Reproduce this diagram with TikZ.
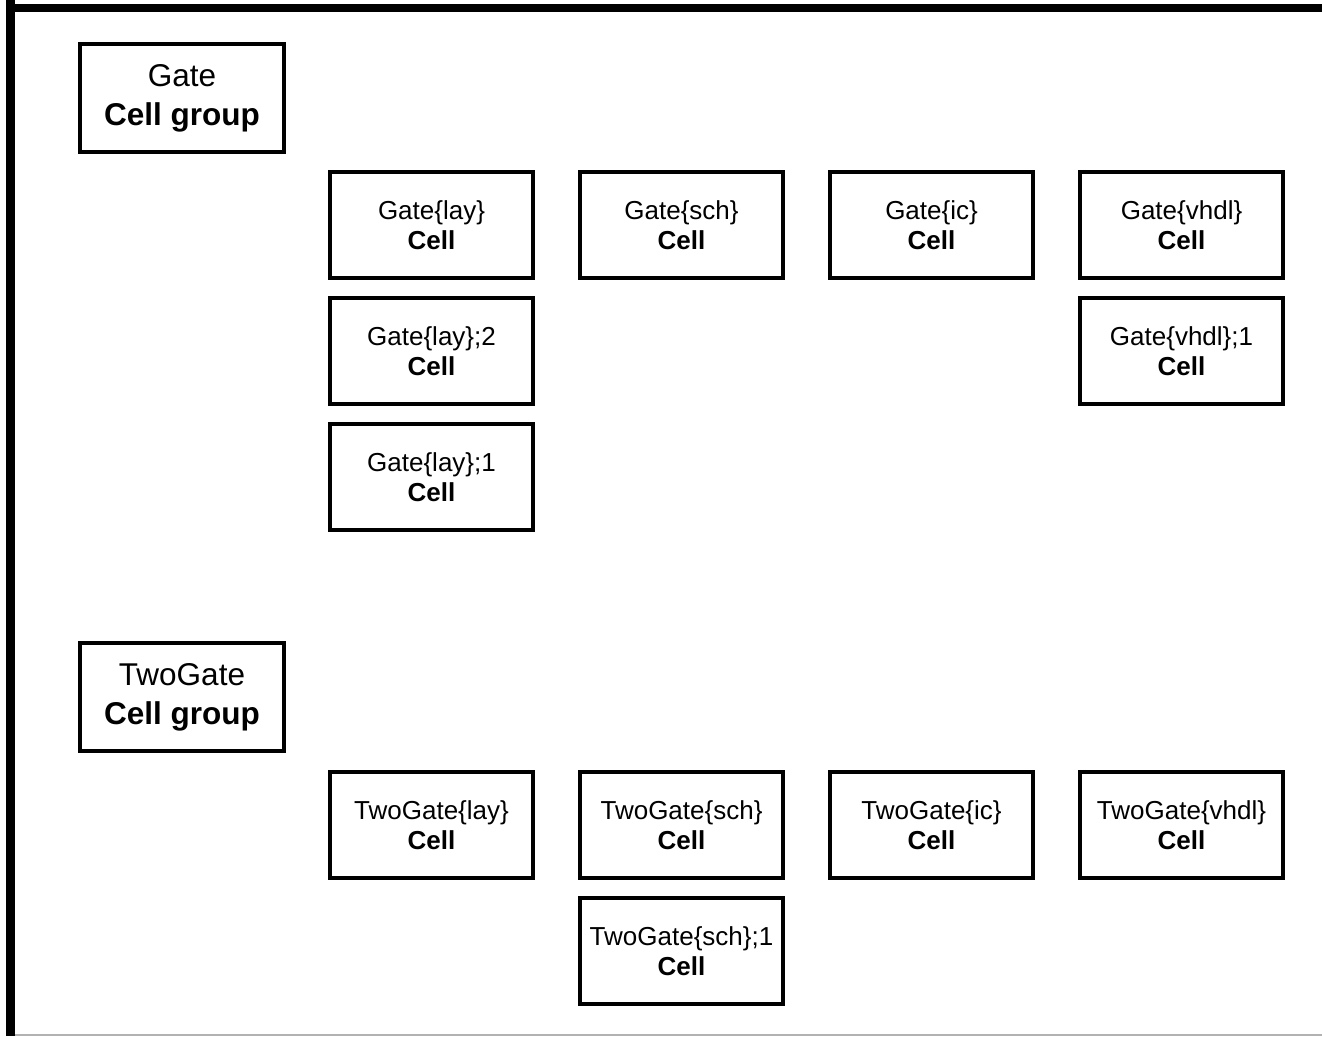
\documentclass[tikz,border=0pt]{standalone}
\usepackage{fontspec}
\setmainfont{Liberation Sans}
\usetikzlibrary{positioning}

\begin{document}
\begin{tikzpicture}
    \tikzstyle{group} = [
      rectangle,
      draw,
      line width=4pt,
      minimum width=204pt,
      minimum height=108pt,
      anchor=north west,
      align=center,
      font=\fontsize{31.5}{39}\selectfont,
    ]
    \tikzstyle{cell} = [
      rectangle,
      draw,
      line width=4pt,
      minimum width=203pt,
      minimum height=106pt,
      anchor=north west,
      align=center,
      font=\fontsize{26}{30}\selectfont,
    ]

    \newcommand{\hpadding}[0]{43pt}
    \newcommand{\vpadding}[0]{16pt}
    \newcommand{\celltext}[1]{#1\\\textbf{Cell}}

    \coordinate (origo) at (0,0);
    \useasboundingbox (origo) rectangle (1322pt,-1036pt);

    % frame
    \coordinate (frametl) at (10.5pt,-8pt);
    \draw[line width=9pt] (frametl |- origo) -- (10.5pt,-1036pt);
    \draw[line width=8pt] (6pt,-8pt) -- (1322pt,-8pt);
    \draw[line width=1.5pt,black!30] (15pt,-1035pt) -- (1322pt,-1035pt);

    % Gate
    \node[group] (gate) at ([xshift=78pt,yshift=-42pt] origo) {Gate\\\textbf{Cell group}};
    \node[cell] (gatelay) at ([xshift=42pt,yshift=-\vpadding] gate.south east) {\celltext{Gate\{lay\}}};
    \node[cell] (gatesch) at ([xshift=\hpadding] gatelay.north east) {\celltext{Gate\{sch\}}};
    \node[cell] (gateic) at ([xshift=\hpadding] gatesch.north east) {\celltext{Gate\{ic\}}};
    \node[cell] (gatevhdl) at ([xshift=\hpadding] gateic.north east) {\celltext{Gate\{vhdl\}}};
    \node[cell] (gatelayII) at ([yshift=-\vpadding] gatelay.south west) {\celltext{Gate\{lay\};2}};
    \node[cell] (gatelayI) at ([yshift=-\vpadding] gatelayII.south west) {\celltext{Gate\{lay\};1}};
    \node[cell] (gatevhdlI) at ([yshift=-\vpadding] gatevhdl.south west) {\celltext{Gate\{vhdl\};1}};

    % TwoGate
    \node[group] (twogate) at ([xshift=78pt,yshift=-641pt] origo) {TwoGate\\\textbf{Cell group}};
    \node[cell] (twogatelay) at ([xshift=42pt,yshift=-17pt] twogate.south east) {\celltext{TwoGate\{lay\}}};
    \node[cell] (twogatesch) at ([xshift=\hpadding] twogatelay.north east) {\celltext{TwoGate\{sch\}}};
    \node[cell] (twogateic) at ([xshift=\hpadding] twogatesch.north east) {\celltext{TwoGate\{ic\}}};
    \node[cell] (twogatevhdl) at ([xshift=\hpadding] twogateic.north east) {\celltext{TwoGate\{vhdl\}}};
    \node[cell] (twogateschI) at ([yshift=-\vpadding] twogatesch.south west) {\celltext{TwoGate\{sch\};1}};
\end{tikzpicture}
\end{document}
